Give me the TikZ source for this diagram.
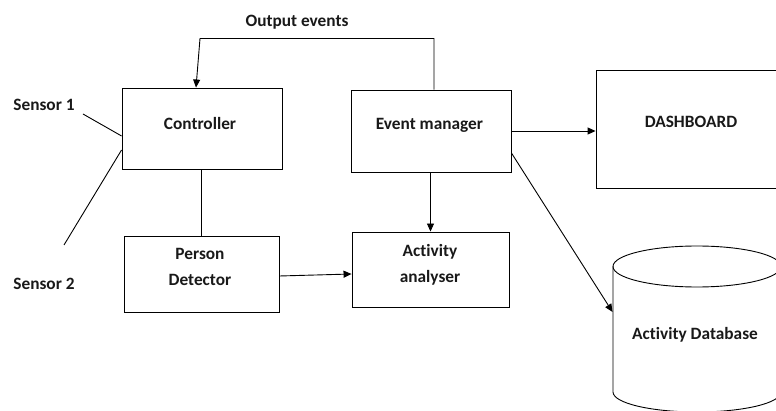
\documentclass[tikz,border=0pt]{standalone}
\usepackage{fontspec}
\setmainfont[Ligatures=NoCommon]{Carlito}
\usetikzlibrary{arrows.meta,calc}
\begin{document}
\begin{tikzpicture}[x=1pt,y=-1pt,
  line width=0.9pt,
  box/.style={draw, rectangle, inner sep=0pt},
  lbl/.style={font=\fontsize{17.3}{26}\selectfont\bfseries, inner sep=0pt, align=center, text=black!90},
  arr/.style={-{Triangle[length=8pt,width=7pt]}}
]
\useasboundingbox (0,0) rectangle (776,411);
% boxes
\node[box, minimum width=160pt, minimum height=81pt] (ctrl) at (202,128.5) {};
\node[box, minimum width=160pt, minimum height=82pt] (evm) at (431,131) {};
\node[box, minimum width=184pt, minimum height=118pt] (dash) at (688,129) {};
\node[box, minimum width=155pt, minimum height=76pt] (pd) at (201.5,274) {};
\node[box, minimum width=157pt, minimum height=75pt] (aa) at (430.5,269.5) {};
% database cylinder
\node[minimum width=168pt, minimum height=166pt, inner sep=0pt] (db) at (697,329) {};
\draw (697,266.5) ellipse [x radius=84pt, y radius=20.5pt];
\draw (613,266.5) -- (613,392) arc[start angle=180, end angle=360, x radius=84pt, y radius=20pt] -- (781,266.5);
% labels
\node[lbl] (tctrl) at (200,123) {Controller};
\node[lbl] (tevm) at (429.5,125) {Event manager};
\node[lbl] (tdash) at (691,122) {DASHBOARD};
\node[lbl] (tpd) at (200,267) {Person\\Detector};
\node[lbl] (taa) at (430,264.5) {Activity\\analyser};
\node[lbl] (tdb) at (695,335) {Activity Database};
\node[lbl] (tout) at (297,22) {Output events};
\node[lbl] (ts1) at (44,105) {Sensor 1};
\node[lbl] (ts2) at (44,284) {Sensor 2};
% helper coordinates
\coordinate (oe1) at (434,38.5);
\coordinate (oe2) at (200,38.5);
\coordinate (s1) at (83,114);
\coordinate (s2) at (64,245);
\coordinate (h136) at (0,136);
\coordinate (h150) at (0,150);
\coordinate (h312) at (0,312);
% connectors
\draw[arr] (evm.north -| oe1) -- (oe1) -- (oe2) -- ([xshift=-6pt]ctrl.north);
\draw (s1) -- (ctrl.west |- h136);
\draw (s2) -- (ctrl.west |- h150);
\draw (pd.north |- ctrl.south) -- (pd.north);
\draw[arr] ([yshift=-2pt]pd.east) -- ([yshift=-4.5pt]aa.west);
\draw[arr] (aa.north |- evm.south) -- (aa.north);
\draw[arr] (evm.east) -- (evm.east -| dash.west);
\draw[arr] ([yshift=-22pt]evm.east) -- (db.west |- h312);
\end{tikzpicture}
\end{document}
